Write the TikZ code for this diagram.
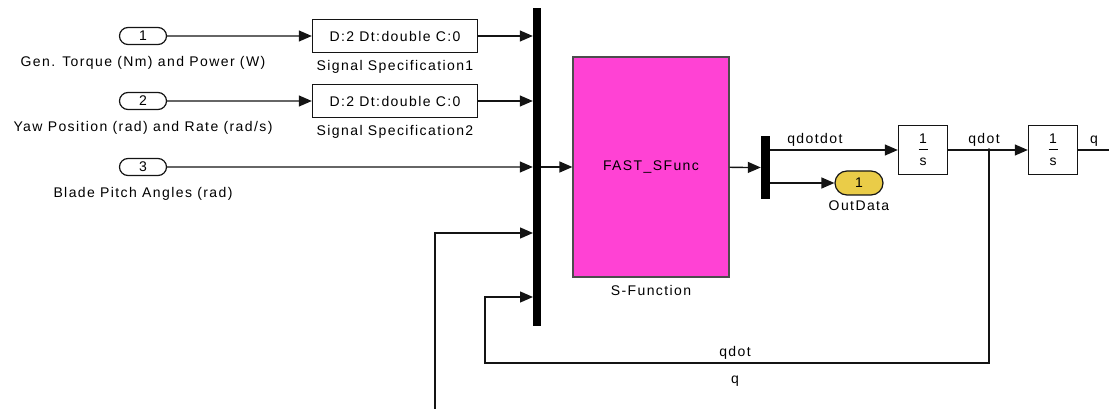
\documentclass[tikz,border=0pt]{standalone}
\usepackage{fontspec}
\setmainfont[LetterSpace=10]{Liberation Sans}
\usepackage{xcolor}
\usepackage{tikz}
\usetikzlibrary{positioning,shapes.misc,arrows.meta}
\definecolor{sfunpink}{RGB}{255,66,212}
\definecolor{outyellow}{RGB}{234,204,72}
\definecolor{wire}{RGB}{20,20,20}

\begin{document}
\begin{tikzpicture}[x=1pt, y=-1pt,
  every node/.style={font=\fontsize{14}{16}\selectfont, text=black},
  port/.style={rounded rectangle, draw=wire, line width=1.2pt, minimum width=47pt, minimum height=17pt, inner sep=0pt},
  outport/.style={port, fill=outyellow, minimum width=48pt, minimum height=24pt},
  specbox/.style={rectangle, draw=wire, line width=1.4pt, minimum width=165pt, minimum height=33pt, inner sep=0pt},
  intbox/.style={rectangle, draw=wire, line width=1.4pt, minimum width=49pt, minimum height=49pt, inner sep=0pt, align=center},
  sfunbox/.style={rectangle, draw=black!70, fill=sfunpink, line width=1.2pt, minimum width=156pt, minimum height=220pt},
  muxbar/.style={rectangle, fill=black, inner sep=0pt},
  sig/.style={draw=wire, line width=1.3pt, -{Triangle[length=13pt,width=11pt]}}
]
  \useasboundingbox (0,0) rectangle (1109,409);
  \clip (0,0) rectangle (1109,409);

  % inputs
  \node[port] (in1) at (143,36) {1};
  \node[below=8pt of in1] (in1lbl) {Gen. Torque (Nm) and Power (W)};
  \node[port] (in2) at (143,101) {2};
  \node[below=8pt of in2] (in2lbl) {Yaw Position (rad) and Rate (rad/s)};
  \node[port] (in3) at (143,167) {3};
  \node[below=8pt of in3] (in3lbl) {Blade Pitch Angles (rad)};

  % signal specifications
  \node[specbox] (spec1) at (395,36) {D:2 Dt:double C:0};
  \node[below=4pt of spec1] (spec1lbl) {Signal Specification1};
  \node[specbox] (spec2) at (395,101) {D:2 Dt:double C:0};
  \node[below=4pt of spec2] (spec2lbl) {Signal Specification2};

  % mux, s-function, demux
  \node[muxbar, minimum width=8pt, minimum height=318pt] (mux) at (537,167) {};
  \coordinate (mux4) at (533,233);
  \coordinate (mux5) at (533,297);
  \node[sfunbox] (sfun) at (651,167) {FAST\_SFunc};
  \node[below=4pt of sfun] (sfunlbl) {S-Function};
  \node[muxbar, minimum width=9pt, minimum height=63pt] (demux) at (765.5,167.5) {};

  % outputs and integrators
  \node[outport] (out1) at (859,183) {1};
  \node[below=2pt of out1] (out1lbl) {OutData};
  \node[intbox] (int1) at (923,150) {1\\[-6pt]\rule[4pt]{9pt}{0.7pt}\\[-4pt]s};
  \node[intbox] (int2) at (1053,150) {1\\[-6pt]\rule[4pt]{9pt}{0.7pt}\\[-4pt]s};
  \coordinate (qdotpt) at (989,150);
  \fill[wire] (qdotpt) circle (1.8pt);

  % connections
  \draw[sig] (in1) -- (spec1);
  \draw[sig] (in2) -- (spec2);
  \draw[sig] (spec1) -- (spec1 -| mux.west);
  \draw[sig] (spec2) -- (spec2 -| mux.west);
  \draw[sig] (in3) -- (in3 -| mux.west);
  \draw[sig] (mux) -- (sfun);
  \draw[sig] (sfun) -- (demux);
  \draw[sig] (demux.east |- int1) -- node[above, pos=0.35] (qddlbl) {qdotdot} (int1);
  \draw[sig] (demux.east |- out1) -- (out1);
  \draw[sig] (int1) -- (int2);
  \node[above] (qdotlbl) at (984,150) {qdot};

  % qdot feedback
  \coordinate (fbqdot) at (485,363);
  \draw[sig] (qdotpt) |- (fbqdot) |- (mux5);
  \node[above] (fbqdotlbl) at (735,363) {qdot};

  % q feedback
  \coordinate (qcorner) at (1125,430);
  \coordinate (qleft) at (435,430);
  \draw[sig] (int2) -| (qcorner) -- (qleft) |- (mux4);
  \node[above] (qlbl) at (1094,150) {q};
  \node (fbqlbl) at (735,381) {q};
\end{tikzpicture}
\end{document}
